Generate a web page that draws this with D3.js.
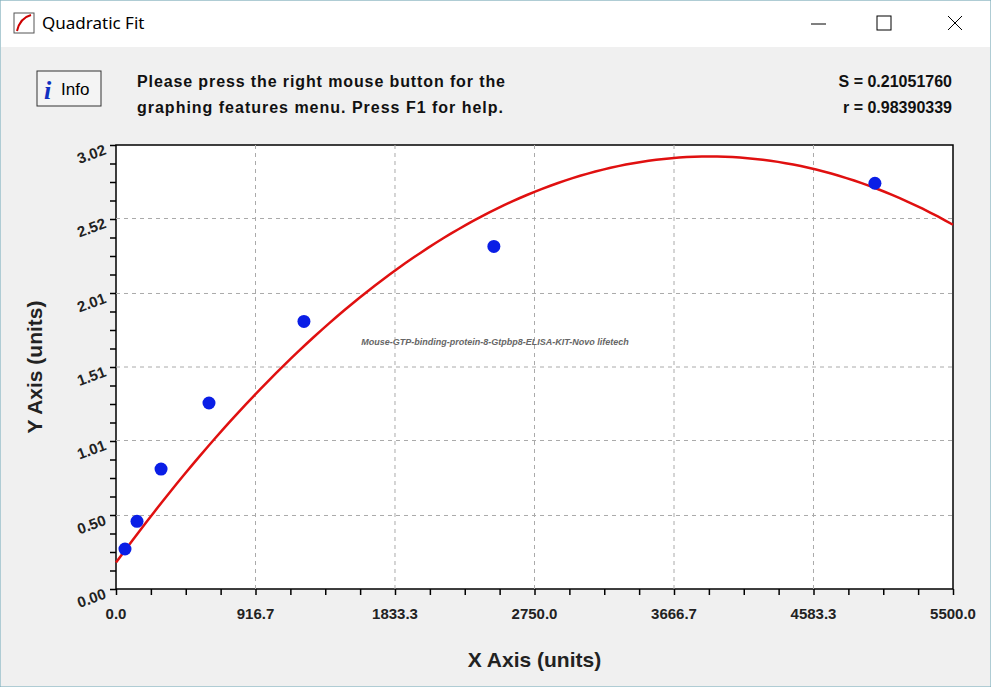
<!DOCTYPE html>
<html><head><meta charset="utf-8">
<script src="https://cdn.jsdelivr.net/npm/d3@7"></script>
<style>body{margin:0;background:#f0f0f0;font-family:"Liberation Sans",Arial,sans-serif}</style>
</head><body>
<svg id="chart" width="991" height="687"></svg>
<script>
const xTicks = [0, 916.7, 1833.3, 2750.0, 3666.7, 4583.3, 5500.0];
const yTicks = [0.00, 0.50, 1.01, 1.51, 2.01, 2.52, 3.02];
const pointX = [59, 138, 296, 611, 1235, 2483, 4987];
const pointY = [0.272, 0.46, 0.816, 1.265, 1.82, 2.33, 2.76];
const fitCoef = [0.18, 1.416e-3, -1.815e-7];

const svg = d3.select("#chart");
const W = 991, H = 687;
const m = {left: 116, right: 953, top: 145, bottom: 589};

// window chrome
svg.append("rect").attr("x",0).attr("y",0).attr("width",W).attr("height",H).attr("fill","#f0f0f0").attr("stroke","#6fa8b8");
svg.append("rect").attr("x",1).attr("y",1).attr("width",W-2).attr("height",46).attr("fill","#fff");
svg.append("rect").attr("x",14).attr("y",13).attr("width",20).attr("height",20).attr("fill","#fff").attr("stroke","#555");
svg.append("path").attr("d","M17,31 Q20,18 31,15").attr("stroke","#c00").attr("stroke-width",2).attr("fill","none");
svg.append("text").attr("x",42).attr("y",29).attr("font-size",17).attr("font-family","Segoe UI, Noto Sans, sans-serif").text("Quadratic Fit");
svg.append("line").attr("x1",811).attr("x2",826).attr("y1",24).attr("y2",24).attr("stroke","#000");
svg.append("rect").attr("x",877).attr("y",16).attr("width",14).attr("height",14).attr("fill","none").attr("stroke","#000");
svg.append("path").attr("d","M948,16 L962,30 M962,16 L948,30").attr("stroke","#000");

// info button
svg.append("rect").attr("x",37).attr("y",71).attr("width",64).attr("height",35).attr("fill","#f4f4f4").attr("stroke","#333");
svg.append("text").attr("x",44).attr("y",99).attr("font-size",26).attr("font-weight","bold").attr("font-style","italic").attr("fill","#1030c0").attr("font-family","Liberation Serif, serif").text("i");
svg.append("text").attr("x",61).attr("y",95).attr("font-size",17).text("Info");

const hdr = svg.append("g").attr("font-weight","bold").attr("font-size",16).attr("fill","#111");
hdr.append("text").attr("x",137).attr("y",87).attr("textLength",368).text("Please press the right mouse button for the");
hdr.append("text").attr("x",137).attr("y",113).attr("textLength",366).text("graphing features menu.  Press F1 for help.");
hdr.append("text").attr("x",952).attr("y",87).attr("text-anchor","end").text("S = 0.21051760");
hdr.append("text").attr("x",952).attr("y",113).attr("text-anchor","end").text("r = 0.98390339");

const x = d3.scaleLinear().domain([0, 5500]).range([m.left, m.right]);
const y = d3.scaleLinear().domain([0, 3.02]).range([m.bottom, m.top]);

svg.append("rect").attr("x",m.left).attr("y",m.top).attr("width",m.right-m.left).attr("height",m.bottom-m.top).attr("fill","#fff").attr("stroke","#000").attr("stroke-width",1.5);

// grid
const grid = svg.append("g").attr("stroke","#aaa").attr("stroke-dasharray","4,4");
xTicks.slice(1,-1).forEach(t => grid.append("line").attr("x1",x(t)).attr("x2",x(t)).attr("y1",m.top).attr("y2",m.bottom));
yTicks.slice(1,-1).forEach(t => grid.append("line").attr("y1",y(t)).attr("y2",y(t)).attr("x1",m.left).attr("x2",m.right));

// axes
const xMinor = d3.range(0, 25).map(i => i * 5500 / 24);
const yMinor = d3.range(0, 25).map(i => i * 3.02 / 24);
const xa = svg.append("g").attr("transform",`translate(0,${m.bottom})`)
  .call(d3.axisBottom(x).tickValues(xMinor).tickSize(6).tickFormat(""));
xa.select(".domain").remove();
xa.selectAll("line").attr("stroke-width",1.5);
const ya = svg.append("g").attr("transform",`translate(${m.left},0)`)
  .call(d3.axisLeft(y).tickValues(yMinor).tickSize(6).tickFormat(""));
ya.select(".domain").remove();
ya.selectAll("line").attr("stroke-width",1.5);

svg.append("g").selectAll("text").data(xTicks).join("text")
  .attr("x", d => x(d)).attr("y", m.bottom + 30).attr("text-anchor","middle")
  .attr("font-weight","bold").attr("font-size",15).attr("fill","#222").text(d => d.toFixed(1));
svg.append("g").selectAll("text").data(yTicks).join("text")
  .attr("transform", d => `translate(${m.left - 9},${y(d) + 9}) rotate(-20)`).attr("text-anchor","end")
  .attr("font-weight","bold").attr("font-size",15).attr("fill","#222").text(d => d.toFixed(2));

svg.append("text").attr("x",(m.left+m.right)/2).attr("y",667).attr("text-anchor","middle")
  .attr("font-weight","bold").attr("font-size",21).attr("fill","#222").text("X Axis (units)");
svg.append("text").attr("transform",`translate(42,${(m.top+m.bottom)/2}) rotate(-90)`).attr("text-anchor","middle")
  .attr("font-weight","bold").attr("font-size",21).attr("fill","#222").text("Y Axis (units)");

svg.append("text").attr("x",495).attr("y",345).attr("text-anchor","middle").attr("font-size",9)
  .attr("font-style","italic").attr("font-weight","bold").attr("fill","#666")
  .text("Mouse-GTP-binding-protein-8-Gtpbp8-ELISA-KIT-Novo lifetech");

// fit curve
const fit = v => fitCoef[0] + fitCoef[1]*v + fitCoef[2]*v*v;
const curve = d3.range(0, 5501, 50).map(v => [v, fit(v)]);
svg.append("path").datum(curve).attr("fill","none").attr("stroke","#e01010").attr("stroke-width",2.5)
  .attr("d", d3.line().x(d => x(d[0])).y(d => y(d[1])));

svg.append("g").selectAll("circle").data(pointX).join("circle")
  .attr("cx", d => x(d)).attr("cy", (d,i) => y(pointY[i])).attr("r",6.5).attr("fill","#0a1ee6");
</script>
</body></html>
